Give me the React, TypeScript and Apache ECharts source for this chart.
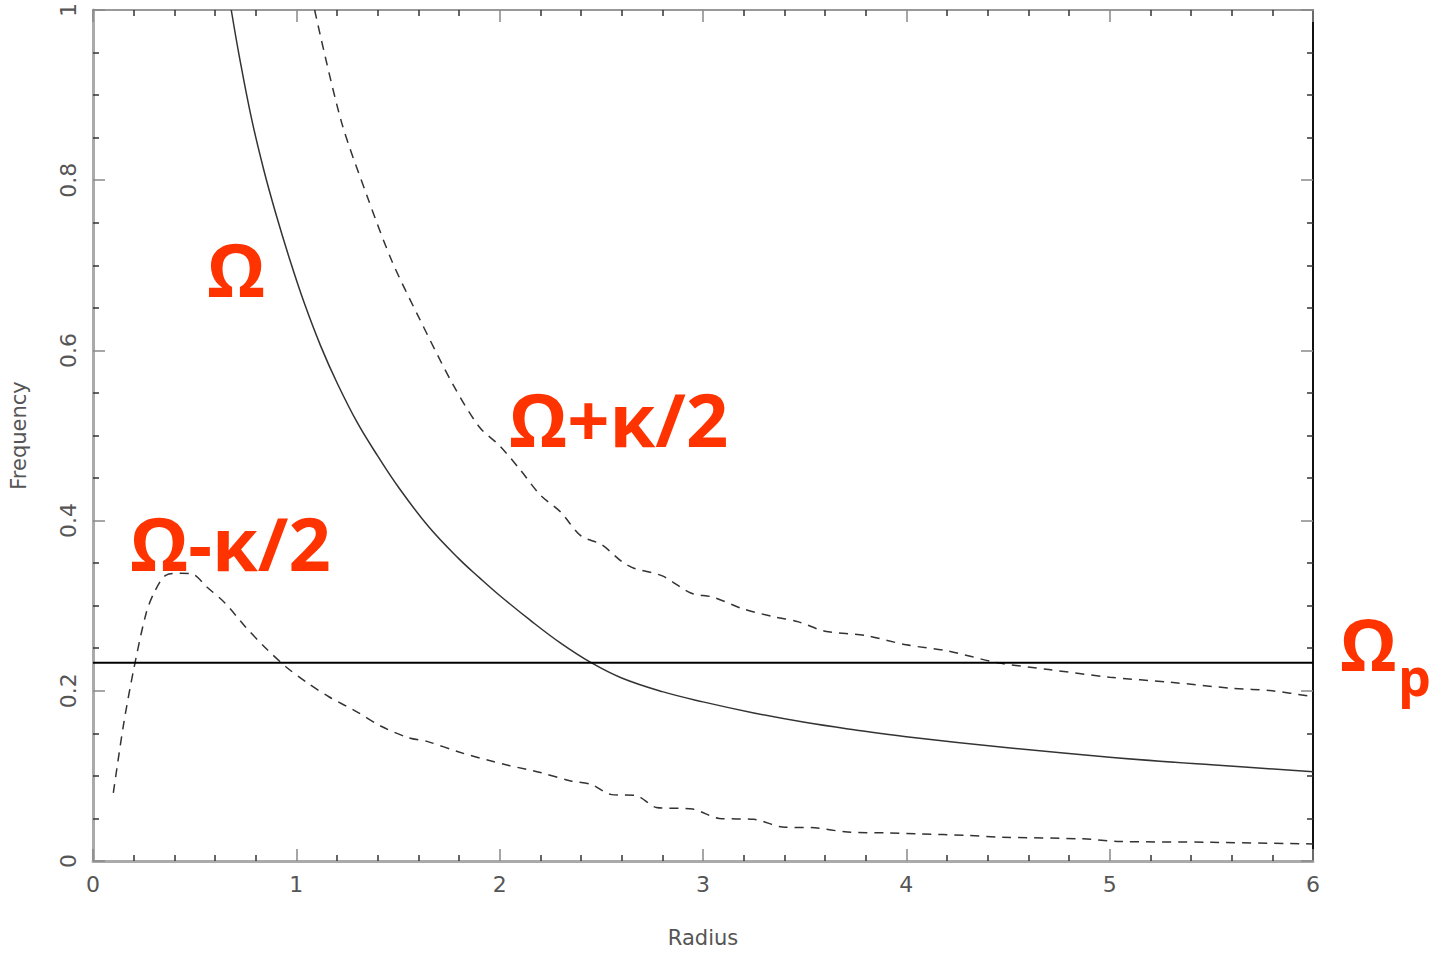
import React, { useEffect, useRef } from "react";
import * as echarts from "echarts";

// Radius / Frequency readings
const omegaR = [0.68, 0.72, 0.78, 0.84, 0.9, 0.97, 1.04, 1.12, 1.2, 1.3, 1.4, 1.5, 1.65, 1.8, 1.9, 2.0, 2.15, 2.3, 2.45, 2.6, 2.8, 3.0, 3.25, 3.5, 3.75, 4.0, 4.5, 5.0, 5.5, 6.0];
const omegaF = [1.0, 0.945, 0.872, 0.812, 0.76, 0.705, 0.655, 0.605, 0.562, 0.515, 0.476, 0.44, 0.393, 0.355, 0.333, 0.312, 0.283, 0.256, 0.233, 0.215, 0.199, 0.187, 0.174, 0.163, 0.154, 0.146, 0.133, 0.122, 0.113, 0.105];

const upperR = [1.09, 1.22, 1.35, 1.47, 1.6, 1.77, 1.9, 2.0, 2.1, 2.2, 2.3, 2.4, 2.5, 2.6, 2.66, 2.8, 2.94, 3.05, 3.2, 3.35, 3.47, 3.6, 3.8, 4.0, 4.2, 4.45, 4.7, 5.0, 5.3, 5.6, 5.8, 6.0];
const upperF = [1.0, 0.87, 0.78, 0.705, 0.64, 0.56, 0.51, 0.488, 0.46, 0.43, 0.41, 0.382, 0.372, 0.352, 0.344, 0.335, 0.315, 0.31, 0.296, 0.287, 0.281, 0.27, 0.265, 0.254, 0.247, 0.233, 0.225, 0.216, 0.21, 0.203, 0.2, 0.193];

const lowerR = [0.1, 0.15, 0.2, 0.26, 0.3, 0.36, 0.43, 0.49, 0.56, 0.65, 0.75, 0.85, 0.95, 1.05, 1.16, 1.3, 1.42, 1.55, 1.65, 1.8, 1.95, 2.05, 2.2, 2.35, 2.45, 2.55, 2.67, 2.77, 2.95, 3.08, 3.25, 3.39, 3.55, 3.71, 3.9, 4.06, 4.3, 4.47, 4.87, 5.05, 5.5, 6.0];
const lowerF = [0.08, 0.16, 0.225, 0.29, 0.315, 0.336, 0.338, 0.337, 0.322, 0.303, 0.275, 0.25, 0.228, 0.21, 0.193, 0.175, 0.158, 0.145, 0.14, 0.128, 0.118, 0.112, 0.104, 0.094, 0.09, 0.078, 0.077, 0.063, 0.061, 0.05, 0.049, 0.04, 0.039, 0.034, 0.033, 0.032, 0.03, 0.028, 0.026, 0.023, 0.022, 0.02];

const patternSpeed = 0.233;
const xTicks = [0, 1, 2, 3, 4, 5, 6];
const yTicks = [0, 0.2, 0.4, 0.6, 0.8, 1];

const zip = (a: number[], b: number[]) => a.map((v, i) => [v, b[i]]);

export default function App() {
  const ref = useRef<HTMLDivElement>(null);
  useEffect(() => {
    document.body.style.margin = "0";
    const chart = echarts.init(ref.current!, undefined, { renderer: "svg" });
    const tickFont = { fontFamily: "DejaVu Sans", color: "#555", fontSize: 22 };
    const red = "#FF3300";
    const labelFont = { fontFamily: "Open Sans", fontWeight: "bold" as const, fill: red };
    const ticks = {
      axisTick: { show: true, inside: true, length: 12, lineStyle: { color: "#888", width: 1.5 } },
      splitLine: { show: false },
    };
    chart.setOption({
      animation: false,
      backgroundColor: "#fff",
      grid: { left: 90, right: 120, top: 8, bottom: 91 },
      xAxis: [
        {
          type: "value", min: xTicks[0], max: xTicks[xTicks.length - 1], interval: 1,
          name: "Radius", nameLocation: "middle", nameGap: 66,
          nameTextStyle: { ...tickFont, fontSize: 21 },
          axisLine: { show: true, onZero: false, lineStyle: { color: "#aaa", width: 3 } },
          minorTick: { show: true, splitNumber: 5, length: 6, lineStyle: { color: "#333", width: 1.5 } },
          axisLabel: { ...tickFont, margin: 12 },
          ...ticks,
        },
        {
          type: "value", position: "top", min: xTicks[0], max: xTicks[xTicks.length - 1], interval: 1,
          axisLine: { show: true, onZero: false, lineStyle: { color: "#999", width: 2 } },
          minorTick: { show: true, splitNumber: 5, length: 6, lineStyle: { color: "#333", width: 1.5 } },
          axisLabel: { show: false },
          ...ticks,
        },
      ],
      yAxis: [
        {
          type: "value", min: yTicks[0], max: yTicks[yTicks.length - 1], interval: 0.2,
          name: "Frequency", nameLocation: "middle", nameGap: 64, nameRotate: 90,
          nameTextStyle: { ...tickFont, fontSize: 21 },
          axisLine: { show: true, onZero: false, lineStyle: { color: "#aaa", width: 3 } },
          minorTick: { show: true, splitNumber: 4, length: 6, lineStyle: { color: "#333", width: 1.5 } },
          axisLabel: { ...tickFont, margin: 14, rotate: 90 },
          ...ticks,
        },
        {
          type: "value", position: "right", min: yTicks[0], max: yTicks[yTicks.length - 1], interval: 0.2,
          axisLine: { show: true, onZero: false, lineStyle: { color: "#111", width: 2 } },
          minorTick: { show: true, splitNumber: 4, length: 6, lineStyle: { color: "#333", width: 1.5 } },
          axisLabel: { show: false },
          ...ticks,
        },
      ],
      series: [
        {
          name: "Ω", type: "line", data: zip(omegaR, omegaF), showSymbol: false, smooth: 0.4,
          lineStyle: { color: "#333", width: 1.5 },
        },
        {
          name: "Ω+κ/2", type: "line", data: zip(upperR, upperF), showSymbol: false, smooth: 0.3,
          lineStyle: { color: "#333", width: 1.5, type: [9, 7] },
        },
        {
          name: "Ω-κ/2", type: "line", data: zip(lowerR, lowerF), showSymbol: false, smooth: 0.3,
          lineStyle: { color: "#333", width: 1.5, type: [9, 7] },
        },
        {
          name: "Ωp", type: "line", data: [[xTicks[0], patternSpeed], [xTicks[xTicks.length - 1], patternSpeed]],
          showSymbol: false, lineStyle: { color: "#000", width: 2 },
        },
      ],
      graphic: [
        { type: "text", x: 207, y: 268, style: { text: "Ω", fontSize: 74, ...labelFont, textVerticalAlign: "middle" } },
        { type: "text", x: 509, y: 418, style: { text: "Ω+κ/2", fontSize: 74, ...labelFont, textVerticalAlign: "middle" } },
        { type: "text", x: 130, y: 542, style: { text: "Ω-κ/2", fontSize: 74, ...labelFont, textVerticalAlign: "middle" } },
        { type: "text", x: 1340, y: 643, style: { text: "Ω", fontSize: 72, ...labelFont, textVerticalAlign: "middle" } },
        { type: "text", x: 1398, y: 675, style: { text: "p", fontSize: 52, ...labelFont, textVerticalAlign: "middle" } },
      ],
    });
    return () => chart.dispose();
  }, []);
  return <div ref={ref} style={{ width: 1433, height: 953 }} />;
}
